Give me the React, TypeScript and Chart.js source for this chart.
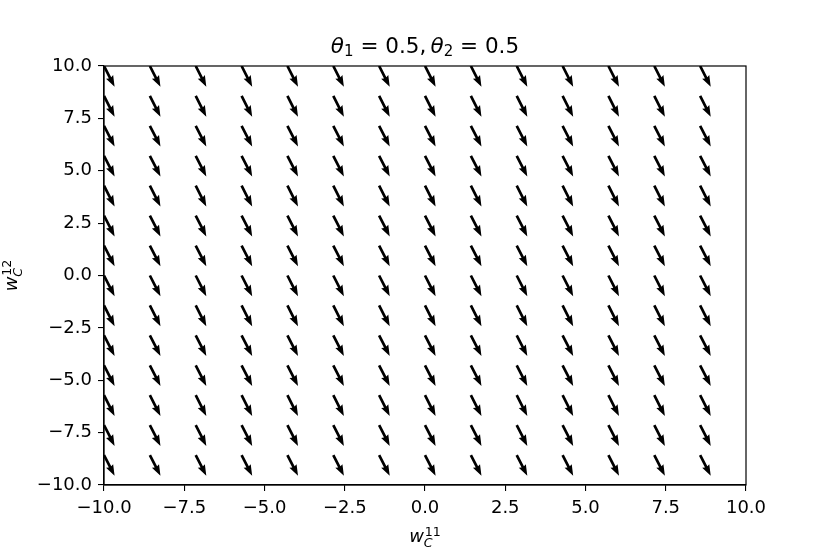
import React, { useEffect, useRef } from "react";
import { Chart, registerables } from "chart.js";

Chart.register(...registerables);

// Grid of arrow tails (data coordinates)
const xCols = [-10, -8.571, -7.143, -5.714, -4.286, -2.857, -1.429, 0, 1.429, 2.857, 4.286, 5.714, 7.143, 8.571];
const yRows = [10, 8.571, 7.143, 5.714, 4.286, 2.857, 1.429, 0, -1.429, -2.857, -4.286, -5.714, -7.143, -8.571];
// Arrow vector components (same everywhere)
const uComp = 0.33;
const vComp = -0.99;
// Axis ticks
const xTicks = [-10, -7.5, -5, -2.5, 0, 2.5, 5, 7.5, 10];
const yTicks = [-10, -7.5, -5, -2.5, 0, 2.5, 5, 7.5, 10];

const FONT = "'DejaVu Sans', sans-serif";

type Seg = { t: string; size: number; italic?: boolean; dy?: number; sup?: string; sub?: string };

function drawMath(ctx: CanvasRenderingContext2D, segs: Seg[], cx: number, baseY: number) {
  const setF = (s: Seg | { size: number; italic?: boolean }) => {
    ctx.font = `${s.italic ? "italic " : ""}${s.size}px ${FONT}`;
  };
  const widths = segs.map((s) => {
    setF(s);
    let w = ctx.measureText(s.t).width;
    if (s.sup || s.sub) {
      ctx.font = `${s.size * 0.7}px ${FONT}`;
      const ws = s.sup ? ctx.measureText(s.sup).width : 0;
      ctx.font = `italic ${s.size * 0.7}px ${FONT}`;
      const wb = s.sub ? ctx.measureText(s.sub).width : 0;
      w += Math.max(ws, wb) + 1;
    }
    return w;
  });
  const total = widths.reduce((a, b) => a + b, 0);
  let x = cx - total / 2;
  ctx.textAlign = "left";
  ctx.textBaseline = "alphabetic";
  ctx.fillStyle = "#000";
  segs.forEach((s, i) => {
    setF(s);
    ctx.fillText(s.t, x, baseY + (s.dy || 0));
    const w0 = ctx.measureText(s.t).width;
    if (s.sup) {
      ctx.font = `${s.size * 0.7}px ${FONT}`;
      ctx.fillText(s.sup, x + w0 + 1, baseY - s.size * 0.36);
    }
    if (s.sub) {
      ctx.font = `italic ${s.size * 0.7}px ${FONT}`;
      ctx.fillText(s.sub, x + w0, baseY + s.size * 0.27);
    }
    x += widths[i];
  });
}

const quiverPlugin = {
  id: "quiver",
  afterDatasetsDraw(chart: any) {
    const { ctx, chartArea } = chart;
    const xs = chart.scales.x;
    const ys = chart.scales.y;
    ctx.save();
    ctx.beginPath();
    ctx.rect(chartArea.left, chartArea.top, chartArea.right - chartArea.left, chartArea.bottom - chartArea.top);
    ctx.clip();
    ctx.fillStyle = "#000";
    const w = 2.7, hw = 8, hl = 11, hal = 10;
    for (const yv of yRows) {
      for (const xv of xCols) {
        const x0 = xs.getPixelForValue(xv);
        const y0 = ys.getPixelForValue(yv);
        const x1 = xs.getPixelForValue(xv + uComp);
        const y1 = ys.getPixelForValue(yv + vComp);
        const dx = x1 - x0, dy = y1 - y0;
        const L = Math.hypot(dx, dy);
        const ux = dx / L, uy = dy / L;
        const nx = -uy, ny = ux;
        const pts: [number, number][] = [
          [0, -w / 2],
          [L - hal, -w / 2],
          [L - hl, -hw / 2],
          [L, 0],
          [L - hl, hw / 2],
          [L - hal, w / 2],
          [0, w / 2],
        ];
        ctx.beginPath();
        pts.forEach(([a, b], i) => {
          const px = x0 + ux * a + nx * b;
          const py = y0 + uy * a + ny * b;
          if (i === 0) ctx.moveTo(px, py);
          else ctx.lineTo(px, py);
        });
        ctx.closePath();
        ctx.fill();
      }
    }
    ctx.restore();

    // frame
    ctx.save();
    ctx.strokeStyle = "#000";
    ctx.lineWidth = 1.2;
    ctx.strokeRect(chartArea.left, chartArea.top, chartArea.right - chartArea.left, chartArea.bottom - chartArea.top);
    ctx.restore();

    // title
    const cx = (chartArea.left + chartArea.right) / 2;
    ctx.save();
    drawMath(
      ctx,
      [
        { t: "θ", size: 21.5, italic: true },
        { t: "1", size: 15, dy: 3 },
        { t: " = 0.5,\u2009", size: 21.5 },
        { t: "θ", size: 21.5, italic: true },
        { t: "2", size: 15, dy: 3 },
        { t: " = 0.5", size: 21.5 },
      ],
      cx,
      53
    );
    // x label
    drawMath(ctx, [{ t: "w", size: 18, italic: true, sup: "11", sub: "C" }], cx, 542);
    // y label
    const cy = (chartArea.top + chartArea.bottom) / 2;
    ctx.translate(17, cy);
    ctx.rotate(-Math.PI / 2);
    drawMath(ctx, [{ t: "w", size: 18, italic: true, sup: "12", sub: "C" }], 0, 0);
    ctx.restore();
  },
};

const fmt = (v: number) => {
  const s = Math.abs(v).toFixed(1);
  return v < 0 ? "\u2212" + s : s;
};

export default function App() {
  const ref = useRef<HTMLCanvasElement | null>(null);
  useEffect(() => {
    const canvas = ref.current!;
    const points = yRows.flatMap((y) => xCols.map((x) => ({ x, y })));
    const chart = new Chart(canvas, {
      type: "scatter",
      data: {
        datasets: [{ data: points, pointRadius: 0, pointHoverRadius: 0, showLine: false }],
      },
      options: {
        responsive: false,
        animation: false,
        events: [],
        layout: { padding: { left: 0, right: 84, top: 66, bottom: 0 } },
        plugins: { legend: { display: false }, title: { display: false }, tooltip: { enabled: false } },
        scales: {
          x: {
            type: "linear",
            min: -10,
            max: 10,
            afterBuildTicks: (s: any) => {
              s.ticks = xTicks.map((v) => ({ value: v }));
            },
            afterFit: (s: any) => {
              s.height = 69;
            },
            grid: { display: true, drawOnChartArea: false, drawTicks: true, tickLength: 6, color: "#000", lineWidth: 1.1 },
            border: { display: true, color: "#000", width: 1.2 },
            ticks: { color: "#000", font: { family: FONT, size: 18, lineHeight: 1.0 }, padding: 8, maxRotation: 0, autoSkip: false, callback: (v: any) => fmt(Number(v)) },
          },
          y: {
            type: "linear",
            min: -10,
            max: 10,
            afterBuildTicks: (s: any) => {
              s.ticks = yTicks.map((v) => ({ value: v }));
            },
            afterFit: (s: any) => {
              s.width = 104;
            },
            grid: { display: true, drawOnChartArea: false, drawTicks: true, tickLength: 6, color: "#000", lineWidth: 1.1 },
            border: { display: true, color: "#000", width: 1.2 },
            ticks: { color: "#000", font: { family: FONT, size: 18 }, padding: 6, autoSkip: false, callback: (v: any) => fmt(Number(v)) },
          },
        },
      },
      plugins: [quiverPlugin],
    } as any);
    return () => chart.destroy();
  }, []);
  return (
    <div style={{ position: "fixed", left: 0, top: 0, width: 830, height: 554, background: "#fff" }}>
      <canvas ref={ref} width={830} height={554} style={{ width: 830, height: 554, display: "block" }} />
    </div>
  );
}
